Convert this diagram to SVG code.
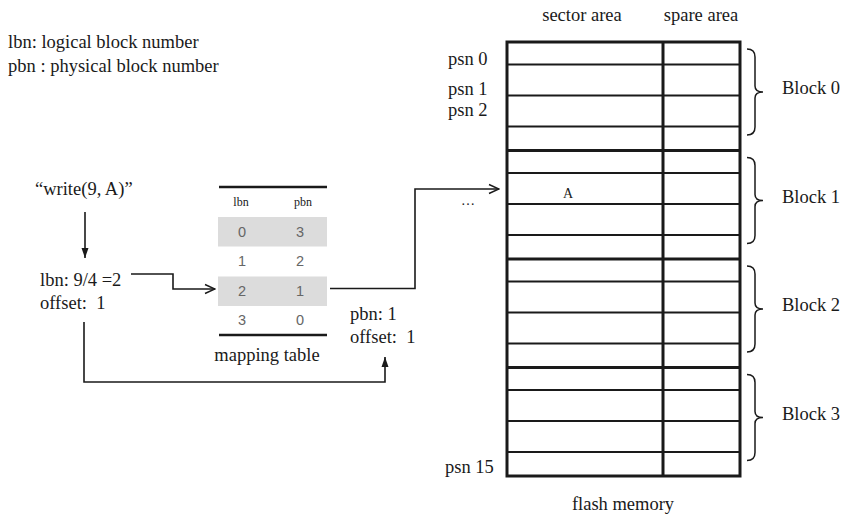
<svg xmlns="http://www.w3.org/2000/svg" width="843" height="522" viewBox="0 0 843 522">
<defs>
<style>
text{font-family:"Liberation Serif","Times New Roman",serif;font-size:18.5px;fill:#1a1a1a;white-space:pre}
.mid{text-anchor:middle}
.hdr{font-size:12px}
.val{font-family:"Liberation Sans",Arial,sans-serif;font-size:14.5px;fill:#666;text-anchor:middle}
.conn{fill:none;stroke:#1a1a1a;stroke-width:1.6}
.row{stroke:#1a1a1a;stroke-width:2.2}
.thick{stroke:#1a1a1a;stroke-width:3}
.brace{fill:none;stroke:#1a1a1a;stroke-width:1.5}
.gray{fill:#dcdcdc}
</style>
<marker id="open" viewBox="0 0 12 12" refX="11" refY="6" markerWidth="12" markerHeight="12" markerUnits="userSpaceOnUse" orient="auto">
<path d="M1 1.5 L11 6 L1 10.5" fill="none" stroke="#1a1a1a" stroke-width="1.5"/>
</marker>
<marker id="solid" viewBox="0 0 10 10" refX="10" refY="5" markerWidth="10" markerHeight="10" markerUnits="userSpaceOnUse" orient="auto">
<path d="M0 1.5 L10 5 L0 8.5 Z" fill="#1a1a1a"/>
</marker>
</defs>
<rect width="843" height="522" fill="#fff"/>

<g id="legend">
<text x="8" y="48">lbn: logical block number</text>
<text x="8" y="72">pbn : physical block number</text>
</g>

<g id="write-cmd">
<text x="35" y="195">“write(9, A)”</text>
</g>

<g id="lbn-calc">
<text x="40" y="286">lbn: 9/4 =2</text>
<text x="40" y="309">offset:  1</text>
</g>

<g id="mapping-table">
<rect class="gray" x="218" y="217" width="109" height="29.5"/>
<rect class="gray" x="218" y="276.5" width="109" height="29.5"/>
<line x1="219" y1="187" x2="327" y2="187" stroke="#1a1a1a" stroke-width="2.5"/>
<line x1="219" y1="335" x2="327" y2="335" stroke="#1a1a1a" stroke-width="2.5"/>
<text class="hdr mid" x="241" y="206">lbn</text>
<text class="hdr mid" x="303" y="206">pbn</text>
<text class="val" x="242" y="237">0</text><text class="val" x="300" y="237">3</text>
<text class="val" x="242" y="266">1</text><text class="val" x="300" y="266">2</text>
<text class="val" x="242" y="296">2</text><text class="val" x="300" y="296">1</text>
<text class="val" x="242" y="325">3</text><text class="val" x="300" y="325">0</text>
<text class="mid" x="267" y="361">mapping table</text>
</g>

<g id="pbn-result">
<text x="350" y="320">pbn: 1</text>
<text x="350" y="343">offset:  1</text>
</g>

<g id="flash-memory">
<text class="mid" x="582" y="21">sector area</text>
<text class="mid" x="701" y="21">spare area</text>
<line class="row" x1="507" y1="64.5" x2="740" y2="64.5"/>
<line class="row" x1="507" y1="95.5" x2="740" y2="95.5"/>
<line class="row" x1="507" y1="126.5" x2="740" y2="126.5"/>
<line class="row" x1="507" y1="173" x2="740" y2="173"/>
<line class="row" x1="507" y1="204" x2="740" y2="204"/>
<line class="row" x1="507" y1="235" x2="740" y2="235"/>
<line class="row" x1="507" y1="281.5" x2="740" y2="281.5"/>
<line class="row" x1="507" y1="312.5" x2="740" y2="312.5"/>
<line class="row" x1="507" y1="343.5" x2="740" y2="343.5"/>
<line class="row" x1="507" y1="390" x2="740" y2="390"/>
<line class="row" x1="507" y1="421" x2="740" y2="421"/>
<line class="row" x1="507" y1="452" x2="740" y2="452"/>
<line class="thick" x1="507" y1="150.5" x2="740" y2="150.5"/>
<line class="thick" x1="507" y1="259" x2="740" y2="259"/>
<line class="thick" x1="507" y1="367.5" x2="740" y2="367.5"/>
<line class="thick" x1="663" y1="42" x2="663" y2="476"/>
<rect x="507" y="42" width="233" height="434" fill="none" stroke="#1a1a1a" stroke-width="3"/>
<text x="448" y="65">psn 0</text>
<text x="448" y="95">psn 1</text>
<text x="448" y="116">psn 2</text>
<text x="445" y="473">psn 15</text>
<text class="mid" x="568" y="198" style="font-size:14px">A</text>
<text class="mid" x="468" y="205" style="font-size:14px">…</text>
<text class="mid" x="623" y="510">flash memory</text>
</g>

<g id="block-0">
<path class="brace" d="M747 49 Q755 49 755 57 L755 86 Q755 92 763 92 Q755 92 755 98 L755 127 Q755 135 747 135"/>
<text x="782" y="94">Block 0</text>
</g>
<g id="block-1">
<path class="brace" d="M747 157.5 Q755 157.5 755 165.5 L755 194.5 Q755 200.5 763 200.5 Q755 200.5 755 206.5 L755 235.5 Q755 243.5 747 243.5"/>
<text x="782" y="203">Block 1</text>
</g>
<g id="block-2">
<path class="brace" d="M747 266 Q755 266 755 274 L755 303 Q755 309 763 309 Q755 309 755 315 L755 344 Q755 352 747 352"/>
<text x="782" y="311">Block 2</text>
</g>
<g id="block-3">
<path class="brace" d="M747 374.5 Q755 374.5 755 382.5 L755 411.5 Q755 417.5 763 417.5 Q755 417.5 755 423.5 L755 452.5 Q755 460.5 747 460.5"/>
<text x="782" y="420">Block 3</text>
</g>

<g id="connectors">
<path class="conn" d="M85 212 L85 258" marker-end="url(#solid)"/>
<path class="conn" d="M131 274 L173 274 L173 289 L215 289" marker-end="url(#open)"/>
<path class="conn" d="M330 288.5 L415 288.5 L415 189 L499 189" marker-end="url(#open)"/>
<path class="conn" d="M84 322 L84 382 L385 382 L385 357" marker-end="url(#solid)"/>
</g>
</svg>
